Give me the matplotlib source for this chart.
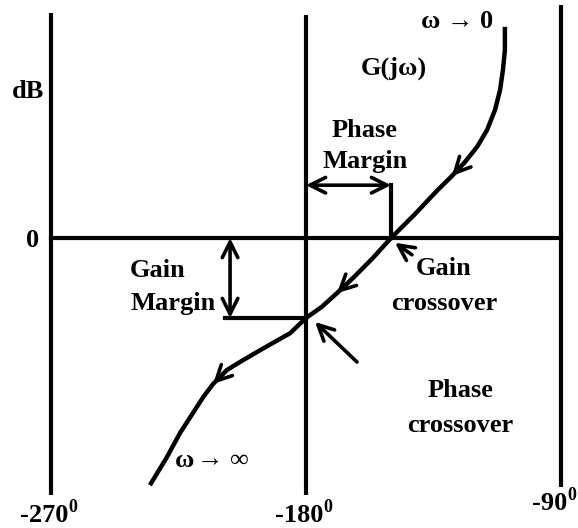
import matplotlib
matplotlib.use("Agg")
import matplotlib.pyplot as plt

# G(jw) locus on the gain-phase plane (phase in degrees, gain in dB)
phase_deg = [-109.8, -109.8, -110.5, -111.5, -113.3, -116.1, -119.6, -123.9,
             -128.5, -133.8, -141.5, -150.0, -156.4, -163.4, -169.1, -174.4,
             -180.0, -185.6, -191.6, -197.3, -203.3, -207.9, -212.8, -216.0,
             -218.5, -224.5, -229.1, -235.1]
gain_db = [26.4, 23.5, 21.0, 18.5, 16.0, 13.5, 11.4, 9.5,
           7.75, 5.9, 3.0, 0.0, -2.5, -5.0, -6.9, -8.6,
           -10.0, -11.9, -13.1, -14.25, -15.5, -16.5, -18.25, -19.75,
           -21.1, -24.4, -27.4, -30.9]

# direction arrows sit on these points of the locus
arrow_idx = [8, 14, 22]

# vertical phase lines: phase, bottom dB, top dB
vline_phase = [-270, -180, -90]
vline_bottom = [-32.1, -32.1, -31.1]
vline_top = [28.1, 27.9, 29.1]

tick_labels = ["-270", "-180", "-90"]

gain_crossover = (-150.0, 0.0)
phase_crossover = (-180.0, -10.0)
phase_margin_db = 6.6
gain_margin_phase = -206.8
gain_margin_line_start = -208.6

LW = 3.0
FONT = ["Liberation Serif", "DejaVu Serif"]
FS = 19


def label(ax, x, y, s, ha="center", size=FS, weight="bold"):
    ax.text(x, y, s, ha=ha, va="baseline", fontsize=size,
            fontweight=weight, family=FONT)


def arrow(ax, tip, tail, style="->"):
    ax.annotate(
        "",
        xy=tip,
        xytext=tail,
        arrowprops=dict(arrowstyle=style, lw=2.6, color="black",
                        mutation_scale=28, shrinkA=0, shrinkB=0),
    )


def main():
    fig = plt.figure(figsize=(5.78, 5.28), dpi=100)
    ax = fig.add_axes([0, 0, 1, 1])
    ax.set_xlim(-288.0, -84.0)
    ax.set_ylim(-36.25, 29.75)
    ax.axis("off")

    # phase lines and the 0 dB line
    for x, y0, y1 in zip(vline_phase, vline_bottom, vline_top):
        ax.plot([x, x], [y0, y1], color="black", lw=LW,
                solid_capstyle="butt")
    ax.plot([-270, -90], [0, 0], color="black", lw=LW)

    # the locus
    ax.plot(phase_deg, gain_db, color="black", lw=3.2,
            solid_capstyle="butt", solid_joinstyle="round")
    for i in arrow_idx:
        arrow(ax, (phase_deg[i], gain_db[i]),
              (phase_deg[i - 1], gain_db[i - 1]))

    # phase margin
    ax.plot([gain_crossover[0]] * 2, [0, phase_margin_db],
            color="black", lw=LW)
    arrow(ax, (-180, phase_margin_db), (gain_crossover[0], phase_margin_db),
          style="<->")

    # gain margin
    ax.plot([gain_margin_line_start, -180], [phase_crossover[1]] * 2,
            color="black", lw=LW)
    arrow(ax, (gain_margin_phase, 0), (gain_margin_phase, phase_crossover[1]),
          style="<->")

    # pointers to the crossovers
    arrow(ax, (-148.6, -0.6), (-142.6, -2.1))
    arrow(ax, (-176.8, -10.5), (-162.0, -15.5))

    # labels
    label(ax, -278.1, 17.5, "dB")
    label(ax, -276.4, -1.1, "0")
    label(ax, -126.7, 26.25, "ω → 0")
    label(ax, -148.9, 20.4, "G(jω)")
    label(ax, -159.2, 12.6, "Phase")
    label(ax, -159.2, 8.75, "Margin")
    label(ax, -242.1, -4.9, "Gain", ha="left")
    label(ax, -242.1, -9.0, "Margin", ha="left")
    label(ax, -131.3, -4.6, "Gain")
    label(ax, -131.3, -9.0, "crossover")
    label(ax, -125.6, -19.9, "Phase")
    label(ax, -125.6, -24.25, "crossover")

    label(ax, -226.2, -28.6, "ω", ha="left")
    label(ax, -218.5, -28.6, "→", ha="left", weight="normal")
    label(ax, -206.9, -28.6, "∞", ha="left", weight="normal")

    # phase tick labels with degree superscripts
    tick_right = [-263.9, -174.0, -87.9]
    tick_base = [-35.5, -35.5, -34.0]
    for lab, xr, yb in zip(tick_labels, tick_right, tick_base):
        label(ax, xr, yb, lab, ha="right")
        label(ax, xr, yb + 1.3, "0", ha="left", size=13)

    fig.savefig("out.png", dpi=100)


if __name__ == "__main__":
    main()
